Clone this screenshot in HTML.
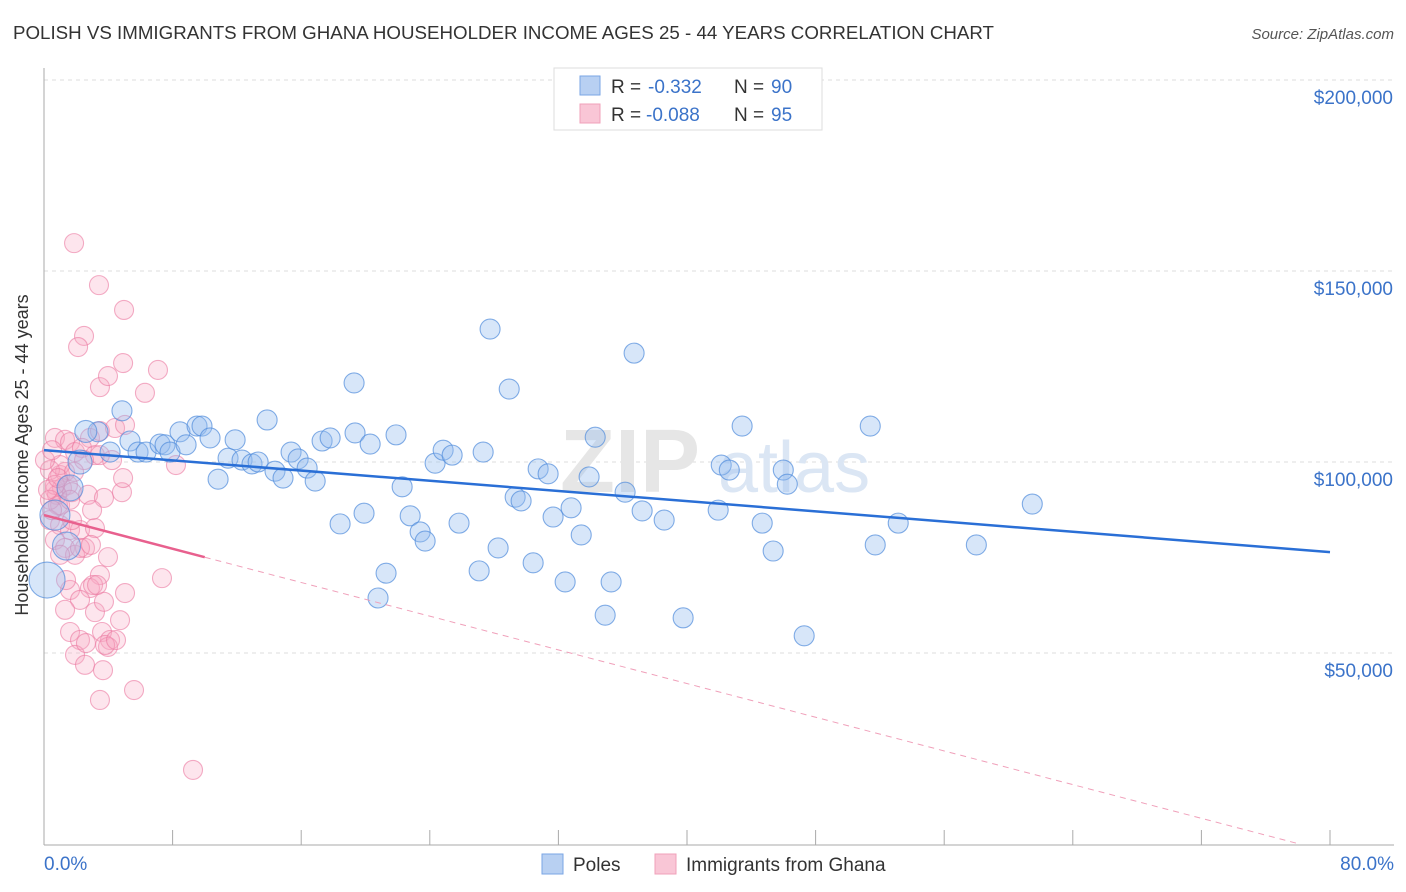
<!DOCTYPE html>
<html><head><meta charset="utf-8"><style>
body{margin:0;background:#fff;font-family:"Liberation Sans",sans-serif;}
svg{display:block}
</style></head><body>
<svg id="chart" width="1406" height="892">
<text x="13" y="39" font-size="18" fill="#333" textLength="981" lengthAdjust="spacingAndGlyphs">POLISH VS IMMIGRANTS FROM GHANA HOUSEHOLDER INCOME AGES 25 - 44 YEARS CORRELATION CHART</text>
<text x="1394" y="39" font-size="15" fill="#555" font-style="italic" text-anchor="end">Source: ZipAtlas.com</text>
<g id="grid"></g>
<text x="560" y="492" font-size="90" fill="#e6e6e6" font-weight="bold">ZIP</text>
<text x="718" y="492" font-size="72" fill="#dbe6f4">atlas</text>
<line x1="44" y1="68" x2="44" y2="845" stroke="#aaa"/>
<line x1="44" y1="845" x2="1394" y2="845" stroke="#aaa"/>
<g id="ticks"></g>
<g id="ylabels"></g>
<text x="28" y="455" font-size="18" fill="#333" text-anchor="middle" transform="rotate(-90 28 455)">Householder Income Ages 25 - 44 years</text>
<text x="44" y="870" font-size="19" fill="#3b73c9">0.0%</text>
<text x="1394" y="870" font-size="19" fill="#3b73c9" text-anchor="end">80.0%</text>
<g id="pink"></g>
<g id="blue"></g>
<g id="trends"></g>
<g>
<rect x="554" y="68" width="268" height="62" fill="#fff" stroke="#ddd"/>
<rect x="580" y="76" width="20" height="19" fill="#b8d0f2" stroke="#7aa6e4"/>
<rect x="580" y="104" width="20" height="19" fill="#f9c6d6" stroke="#f0a0ba"/>
<text x="611" y="93" font-size="19" fill="#333">R =</text>
<text x="648" y="93" font-size="19" fill="#3b73c9">-0.332</text>
<text x="734" y="93" font-size="19" fill="#333">N =</text>
<text x="771" y="93" font-size="19" fill="#3b73c9">90</text>
<text x="611" y="121" font-size="19" fill="#333">R =</text>
<text x="646" y="121" font-size="19" fill="#3b73c9">-0.088</text>
<text x="734" y="121" font-size="19" fill="#333">N =</text>
<text x="771" y="121" font-size="19" fill="#3b73c9">95</text>
</g>
<g>
<rect x="542" y="854" width="21" height="20" fill="#b8d0f2" stroke="#7aa6e4"/>
<text x="573" y="871" font-size="19" fill="#333">Poles</text>
<rect x="655" y="854" width="21" height="20" fill="#f9c6d6" stroke="#f0a0ba"/>
<text x="686" y="871" font-size="19" fill="#333">Immigrants from Ghana</text>
</g>
</svg>
<script>
const yTicks=[50000,100000,150000,200000];
const yTickLabels=["$50,000","$100,000","$150,000","$200,000"];
const xTicks=[0,8,16,24,32,40,48,56,64,72,80];
const bluePct=[4.85,3.36,5.35,4.11,5.85,6.35,7.22,7.53,8.46,9.52,9.83,10.33,7.84,8.84,10.83,11.45,11.89,12.32,12.94,13.32,13.88,14.37,14.87,15.37,15.81,16.37,16.87,17.30,17.80,18.42,19.29,19.35,19.91,20.29,21.28,20.78,21.90,22.28,22.78,23.40,23.71,24.33,24.83,25.39,25.82,27.07,27.32,27.75,28.25,28.94,29.31,29.68,30.43,30.74,31.36,31.67,32.42,32.79,33.42,33.91,34.29,34.91,35.28,36.15,36.71,37.21,38.58,39.76,41.94,42.13,42.63,43.43,44.68,45.36,45.99,46.24,47.29,51.40,51.71,53.14,58.00,61.48,0.19,0.68,1.62,2.24,2.60,1.40];
const blueIncome=[113.4,107.9,105.5,102.6,102.6,102.6,104.7,104.5,107.9,109.4,109.4,106.3,102.6,104.5,95.5,101.0,105.8,100.5,99.5,100.0,111.0,97.6,95.8,102.6,100.8,98.4,95.0,105.5,106.3,83.8,120.7,107.6,86.6,104.7,70.9,64.4,107.1,93.5,85.9,81.7,79.3,99.7,103.1,101.8,84.0,71.5,102.6,134.8,77.5,119.1,90.8,89.8,73.6,98.2,96.9,85.6,68.6,88.0,80.9,96.1,106.5,59.9,68.6,92.1,128.5,87.2,84.8,59.2,87.4,99.2,97.9,109.4,84.0,76.7,97.9,94.2,54.5,109.4,78.3,84.0,78.3,89.0,69.1,86.1,93.2,100.0,108.0,78.0];
const blueWeight=[1,1,1,1,1,1,1,1,1,1,1,1,1,1,1,1,1,1,1,1,1,1,1,1,1,1,1,1,1,1,1,1,1,1,1,1,1,1,1,1,1,1,1,1,1,1,1,1,1,1,1,1,1,1,1,1,1,1,1,1,1,1,1,1,1,1,1,1,1,1,1,1,1,1,1,1,1,1,1,1,1,1,1.8,1.5,1.3,1.2,1.1,1.4];
const pinkPct=[1.87,3.42,4.98,2.49,2.12,4.92,3.48,3.98,7.09,6.28,0.68,1.31,1.62,2.86,3.48,4.42,5.04,1.93,2.36,3.17,4.23,1.00,1.31,0.68,1.12,1.49,0.87,1.74,2.74,3.73,4.85,4.92,8.21,0.37,1.00,1.62,0.68,2.24,3.17,2.99,1.31,1.93,2.55,3.98,3.48,2.86,5.04,7.34,1.62,2.24,1.31,3.17,3.73,1.62,2.24,3.61,4.11,3.98,1.93,2.55,3.67,3.80,4.48,2.61,0.81,1.00,0.37,0.68,1.00,0.06,0.50,3.48,0.37,0.50,1.62,1.00,1.74,2.24,1.37,3.48,5.60,9.27,2.92,4.73,2.49,0.25,0.87,1.87,3.05,3.30];
const pinkIncome=[157.3,146.3,139.8,133.0,130.1,125.9,119.6,122.5,124.1,118.1,106.3,105.8,105.2,106.3,108.1,108.9,109.7,102.6,103.7,101.8,100.5,96.6,97.4,92.7,93.2,94.0,88.7,92.1,91.4,90.6,92.1,95.8,99.2,84.8,83.5,82.2,79.6,82.2,82.7,87.4,77.5,75.7,77.5,75.1,70.4,67.0,65.7,69.6,66.5,63.9,61.3,60.7,63.4,55.5,53.4,55.5,53.4,51.6,49.5,46.9,45.5,52.1,53.4,52.6,91.4,88.7,97.9,94.0,99.2,100.5,103.1,101.8,90.1,87.4,90.1,75.7,84.8,77.5,69.1,37.7,40.3,19.4,78.3,58.6,100.5,92.7,95.8,97.4,67.8,67.8];
const blueTrend=[103.1,76.4]; // income (k) at 0% and 80%
const pinkTrend=[86.1,78.1,10]; // intercept k, x-intercept %, solid end %

const NS="http://www.w3.org/2000/svg";
const X=p=>44+p*(1286/80);
const Y=v=>844-v*(573/150000);
function mk(tag,attrs,parent){const e=document.createElementNS(NS,tag);for(const k in attrs)e.setAttribute(k,attrs[k]);parent.appendChild(e);return e;}
const grid=document.getElementById('grid'),yl=document.getElementById('ylabels'),tk=document.getElementById('ticks');
yTicks.forEach((v,i)=>{
 const l=mk('line',{x1:44,x2:1394,y1:Y(v),y2:Y(v),stroke:'#ddd','stroke-dasharray':'4,4'},grid);
 
 
 const t=mk('text',{x:1393,y:Y(v)+24,'font-size':19,fill:'#3b73c9','text-anchor':'end'},yl);
 t.textContent=yTickLabels[i];
 
 
});
xTicks.forEach(p=>{
 const l=mk('line',{x1:X(p),x2:X(p),y1:830,y2:845,stroke:'#aaa'},tk);
 
 
});
const pg=document.getElementById('pink');
pinkPct.forEach((p,i)=>{
 const c=mk('circle',{cx:X(p),cy:Y(pinkIncome[i]*1000),r:9.5,fill:'rgba(247,170,195,0.3)',stroke:'rgba(235,120,160,0.6)','stroke-width':1.1},pg);
 
 
});
const bg=document.getElementById('blue');
bluePct.forEach((p,i)=>{
 const c=mk('circle',{cx:X(p),cy:Y(blueIncome[i]*1000),r:10*blueWeight[i],fill:'rgba(150,190,240,0.38)',stroke:'rgba(80,140,220,0.7)','stroke-width':1.1},bg);
 
 
});
const tg=document.getElementById('trends');
const bt=mk('line',{x1:X(0),y1:Y(blueTrend[0]*1000),x2:X(80),y2:Y(blueTrend[1]*1000),stroke:'#2a6fd6','stroke-width':2.5},tg);


const pv=p=>pinkTrend[0]*(1-p/pinkTrend[1])*1000;
const ps=mk('line',{x1:X(0),y1:Y(pv(0)),x2:X(pinkTrend[2]),y2:Y(pv(pinkTrend[2])),stroke:'#e8608e','stroke-width':2.5},tg);


const pd=mk('line',{x1:X(pinkTrend[2]),y1:Y(pv(pinkTrend[2])),x2:X(pinkTrend[1]),y2:Y(0),stroke:'#f0a0ba','stroke-width':1,'stroke-dasharray':'6,5'},tg);


</script>
</body></html>
